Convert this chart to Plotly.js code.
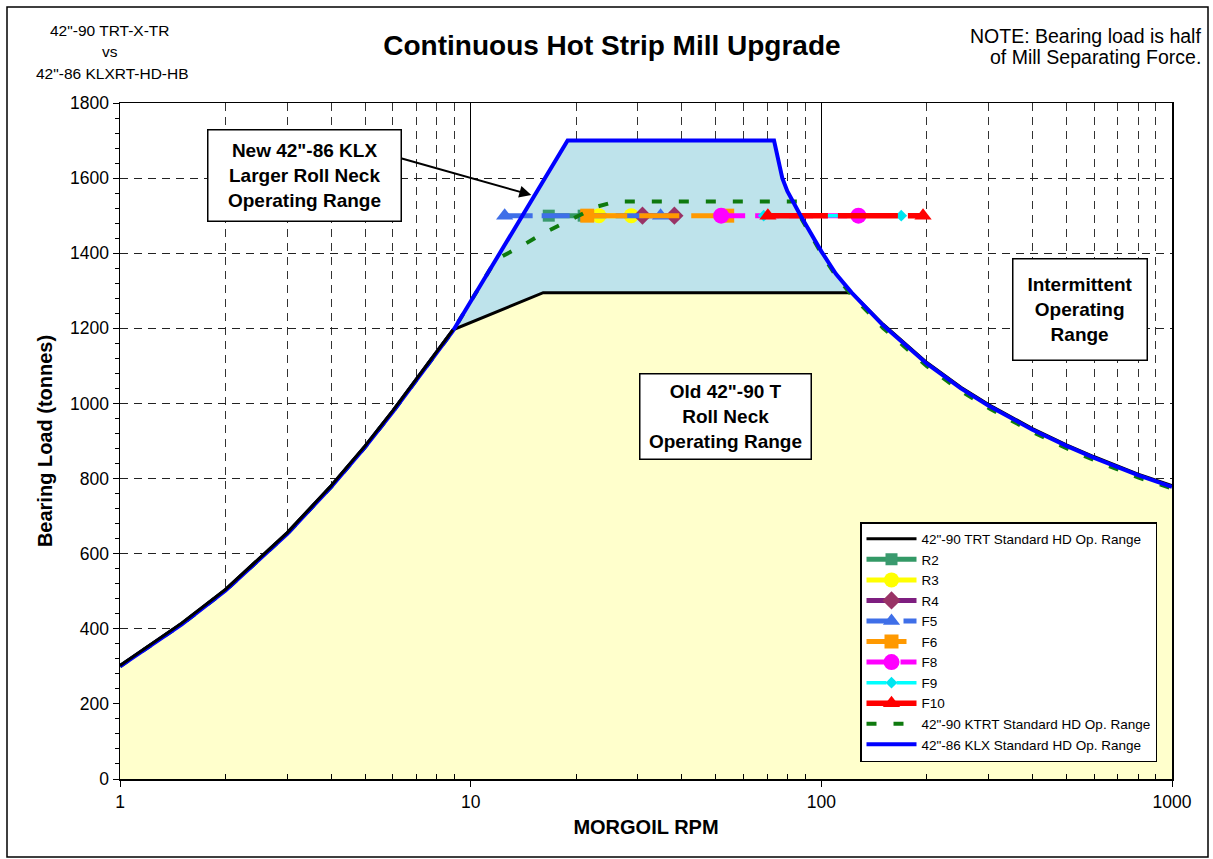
<!DOCTYPE html>
<html><head><meta charset="utf-8">
<script src="https://cdn.plot.ly/plotly-3.0.1.min.js"></script>
<style>html,body{margin:0;padding:0;background:#fff}#chart{width:1213px;height:859px}</style>
</head><body><div id="chart"></div>
<script>
// ---- data ----
const klxRpm  = [1, 1.5, 2, 3, 4, 5, 6, 7, 8, 8.9, 18.9, 73.3, 77.4, 80, 87.3, 100, 110, 122, 150, 200, 250, 300, 400, 500, 600, 700, 800, 1000];
const klxLoad = [300, 412, 502, 653, 778, 884, 978, 1062, 1135, 1193, 1700, 1700, 1600, 1565, 1500, 1405, 1345, 1295, 1208, 1106, 1040, 994, 930, 887, 855, 830, 809, 778];

const trtRpm  = [1, 1.5, 2, 3, 4, 5, 6, 7, 8, 8.9, 16.1, 122, 150, 200, 250, 300, 400, 500, 600, 700, 800, 1000];
const trtLoad = [302, 415, 505, 656, 781, 887, 981, 1065, 1138, 1196, 1295, 1295, 1211, 1109, 1043, 997, 933, 890, 858, 833, 812, 781];

const ktrtRpm  = [1, 1.5, 2, 3, 4, 5, 6, 7, 8, 8.9, 11.8, 13.9, 16.1, 19.2, 22.9, 26, 85.4, 88, 100, 110, 122, 150, 200, 250, 300, 400, 500, 600, 700, 800, 1000];
const ktrtLoad = [300, 412, 502, 653, 778, 884, 978, 1062, 1135, 1193, 1383, 1418, 1453, 1489, 1524, 1538, 1538, 1490, 1400, 1340, 1289, 1201, 1099, 1033, 988, 924, 881, 849, 824, 803, 774];

const standNames = ['R2', 'R3', 'R4', 'F5', 'F6', 'F8', 'F9', 'F10'];
const r2Rpm  = [16.7, 21];
const r3Rpm  = [23.2, 28.7];
const r4Rpm  = [30.9, 38.1];
const f5Rpm  = [12.5, 34.8];
const f6Rpm  = [21.5, 53.9];
const f8Rpm  = [51.8, 127.6];
const f9Rpm  = [68.5, 169];
const f10Rpm = [70.4, 195];
const standLoad = [1500, 1500];

const xTickVals = [1, 10, 100, 1000];
const xTickText = ['1', '10', '100', '1000'];
const xMinorVals = [2,3,4,5,6,7,8,9,20,30,40,50,60,70,80,90,200,300,400,500,600,700,800,900];

const legendTRT  = '42"-90 TRT Standard HD Op. Range';
const legendKTRT = '42"-90 KTRT Standard HD Op. Range';
const legendKLX  = '42"-86 KLX Standard HD Op. Range';

// ---- styles ----
const FONT = 'Liberation Sans, Arial, sans-serif';
const standRpms = [r2Rpm, r3Rpm, r4Rpm, f5Rpm, f6Rpm, f8Rpm, f9Rpm, f10Rpm];
const standStyle = [
  {line:'#339966', marker:'#3a9a6e', symbol:'square',       size:12, dash:'solid',     width:5},
  {line:'#FFFF00', marker:'#FFFF00', symbol:'circle',       size:15, dash:'solid',     width:5},
  {line:'#7E1E80', marker:'#993366', symbol:'diamond',      size:14, dash:'solid',     width:5},
  {line:'#3F6FE8', marker:'#3F6FE8', symbol:'triangle-up',  size:15, dash:'28px,9px',  width:5},
  {line:'#FF9900', marker:'#FF9900', symbol:'square',       size:14, dash:'40px,12px', width:5},
  {line:'#FF00FF', marker:'#FF00FF', symbol:'circle',       size:16, dash:'24px,10px', width:5},
  {line:'#00FFFF', marker:'#00E5F0', symbol:'diamond',      size:9,  dash:'20px,10px', width:3.5},
  {line:'#FF0000', marker:'#FF0000', symbol:'triangle-up',  size:15, dash:'60px,10px', width:5.5}
];

const traces = [];
traces.push({x: klxRpm, y: klxLoad, mode: 'lines', fill: 'tozeroy', fillcolor: '#BEE3EB',
  line: {width: 0, color: 'rgba(0,0,0,0)'}, showlegend: false, hoverinfo: 'skip'});
traces.push({x: trtRpm, y: trtLoad, mode: 'lines', fill: 'tozeroy', fillcolor: '#FFFFCC',
  line: {width: 0, color: 'rgba(0,0,0,0)'}, showlegend: false, hoverinfo: 'skip'});
traces.push({name: legendTRT, x: trtRpm, y: trtLoad, mode: 'lines',
  line: {color: '#000000', width: 3}, legendrank: 1});
standNames.forEach((n, i) => {
  const s = standStyle[i];
  traces.push({name: n, x: standRpms[i], y: standLoad, mode: 'lines+markers',
    line: {color: s.line, width: s.width, dash: s.dash},
    marker: {color: s.marker, symbol: s.symbol, size: s.size, line: {width: 0}},
    legendrank: 2 + i});
});
traces.push({name: legendKTRT, x: ktrtRpm, y: ktrtLoad, mode: 'lines',
  line: {color: '#0E7A0E', width: 4, dash: '10px,17px'}, legendrank: 10});
traces.push({name: legendKLX, x: klxRpm, y: klxLoad, mode: 'lines',
  line: {color: '#0000FF', width: 4}, legendrank: 11});
// black rising part drawn over the blue line (as in the reference)
traces.push({x: trtRpm.slice(0, 10), y: trtLoad.slice(0, 10), mode: 'lines',
  line: {color: '#000000', width: 3}, showlegend: false, hoverinfo: 'skip'});

// pixel -> paper helpers for the fixed layout (plot area 120..1172 x 103..779)
const px = v => (v - 120) / 1052;
const py = v => (779 - v) / 676;

const boxFont = {family: FONT, size: 19, color: '#000', weight: 'bold'};
const layout = {
  width: 1213, height: 859,
  margin: {l: 120, r: 41, t: 103, b: 80, pad: 0},
  paper_bgcolor: '#ffffff', plot_bgcolor: '#ffffff',
  font: {family: FONT, color: '#000'},
  title: {text: 'Continuous Hot Strip Mill Upgrade', x: 0.5045, xref: 'container', xanchor: 'center',
    y: 1 - 45 / 859, yref: 'container', yanchor: 'middle',
    font: {family: FONT, size: 28, weight: 'bold', color: '#000'}},
  xaxis: {
    type: 'log', range: [0, 3], layer: 'above traces',
    tickvals: xTickVals, ticktext: xTickText, ticks: 'outside', ticklen: 6, tickcolor: '#000', tickwidth: 1,
    tickfont: {family: FONT, size: 17.5, color: '#000'},
    showgrid: true, gridcolor: '#000', gridwidth: 1,
    showline: true, linecolor: '#000', linewidth: 1.5, mirror: true, zeroline: false,
    minor: {tickvals: xMinorVals, ticks: 'inside', ticklen: 5, tickcolor: '#000',
      showgrid: true, gridcolor: '#333', gridwidth: 1, griddash: '8px,6px'},
    title: {text: 'MORGOIL RPM', standoff: 9, font: {family: FONT, size: 20, weight: 'bold', color: '#000'}}
  },
  yaxis: {
    range: [0, 1800], dtick: 200, layer: 'above traces',
    ticks: 'outside', ticklen: 6, tickcolor: '#000', tickwidth: 1,
    tickfont: {family: FONT, size: 17.5, color: '#000'},
    showgrid: true, gridcolor: '#222', gridwidth: 1, griddash: '8px,6px',
    showline: true, linecolor: '#000', linewidth: 1.5, mirror: true, zeroline: false,
    minor: {dtick: 40, ticks: 'outside', ticklen: 4, tickcolor: '#000', showgrid: false},
    title: {text: 'Bearing Load (tonnes)', standoff: 12, font: {family: FONT, size: 20, weight: 'bold', color: '#000'}}
  },
  legend: {x: px(860), y: py(522), xanchor: 'left', yanchor: 'top', bgcolor: '#ffffff',
    bordercolor: '#000', borderwidth: 1.5, itemwidth: 50,
    font: {family: FONT, size: 13.5, color: '#000'}},
  shapes: [
    {type: 'rect', xref: 'paper', yref: 'paper', x0: px(7), x1: px(1208), y0: py(857), y1: py(7),
      line: {color: '#000', width: 1.5}, fillcolor: 'rgba(0,0,0,0)', layer: 'above'}
  ],
  annotations: [
    {xref: 'paper', yref: 'paper', x: px(304), y: py(175), xanchor: 'center', yanchor: 'middle',
      text: 'New 42"-86 KLX<br>Larger Roll Neck<br>Operating Range', showarrow: false,
      bgcolor: '#fff', bordercolor: '#000', borderwidth: 1.5, borderpad: 2, width: 188, height: 86,
      align: 'center', valign: 'middle', font: boxFont},
    {xref: 'x', yref: 'y', x: 1.173, y: 1555, ax: -131, ay: -37, axref: 'pixel', ayref: 'pixel',
      text: '', showarrow: true, arrowhead: 2, arrowsize: 1.2, arrowwidth: 2, arrowcolor: '#000', standoff: 0},
    {xref: 'paper', yref: 'paper', x: px(725), y: py(416), xanchor: 'center', yanchor: 'middle',
      text: 'Old 42"-90 T<br>Roll Neck<br>Operating Range', showarrow: false,
      bgcolor: '#fff', bordercolor: '#000', borderwidth: 1.5, borderpad: 2, width: 166, height: 80,
      align: 'center', valign: 'middle', font: boxFont},
    {xref: 'paper', yref: 'paper', x: px(1079.5), y: py(309), xanchor: 'center', yanchor: 'middle',
      text: 'Intermittent<br>Operating<br>Range', showarrow: false,
      bgcolor: '#fff', bordercolor: '#000', borderwidth: 1.5, borderpad: 2, width: 129, height: 96,
      align: 'center', valign: 'middle', font: boxFont},
    {xref: 'paper', yref: 'paper', x: px(110), y: py(30), xanchor: 'center', yanchor: 'middle',
      text: '42"-90 TRT-X-TR', showarrow: false, font: {family: FONT, size: 15.5, color: '#000'}},
    {xref: 'paper', yref: 'paper', x: px(110), y: py(52), xanchor: 'center', yanchor: 'middle',
      text: 'vs', showarrow: false, font: {family: FONT, size: 15.5, color: '#000'}},
    {xref: 'paper', yref: 'paper', x: px(112), y: py(74), xanchor: 'center', yanchor: 'middle',
      text: '42"-86 KLXRT-HD-HB', showarrow: false, font: {family: FONT, size: 15.5, color: '#000'}},
    {xref: 'paper', yref: 'paper', x: px(1203), y: py(36), xanchor: 'right', yanchor: 'middle',
      text: 'NOTE: Bearing load is half', showarrow: false, font: {family: FONT, size: 19.5, color: '#000'}},
    {xref: 'paper', yref: 'paper', x: px(1203), y: py(57), xanchor: 'right', yanchor: 'middle',
      text: 'of Mill Separating Force.', showarrow: false, font: {family: FONT, size: 19.5, color: '#000'}}
  ]
};

Plotly.newPlot('chart', traces, layout, {displayModeBar: false, staticPlot: true});
</script></body></html>
